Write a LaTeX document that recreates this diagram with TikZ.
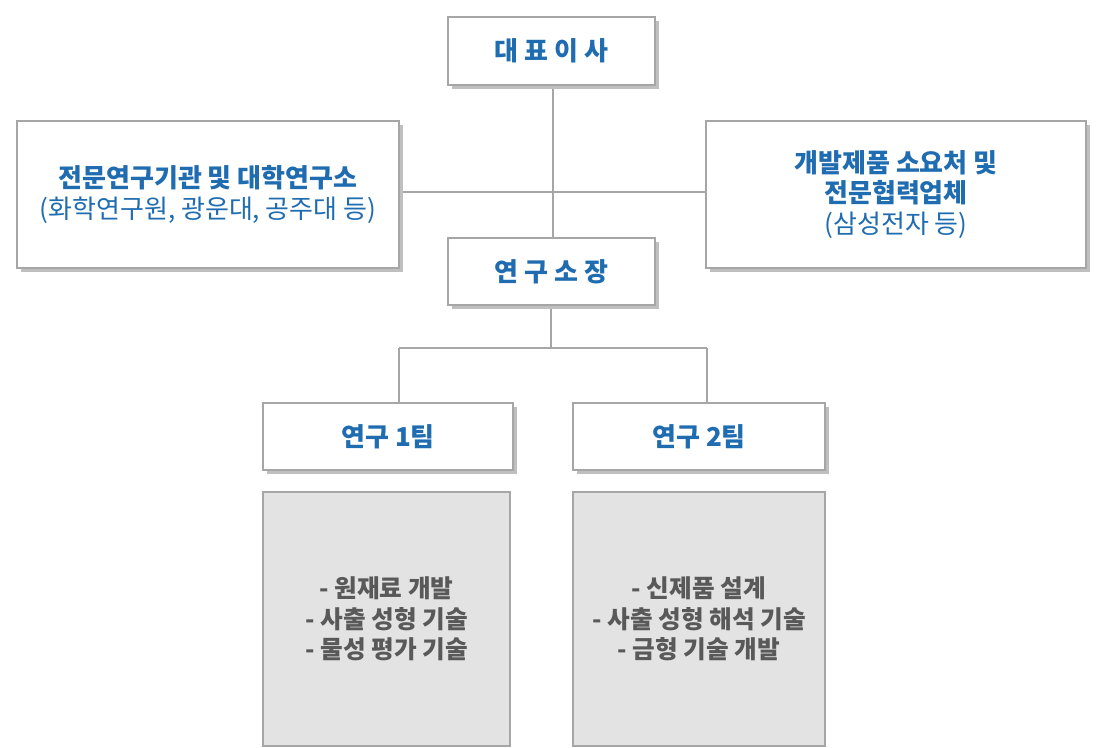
\documentclass[tikz,border=0pt]{standalone}
\usepackage{fontspec}
\setmainfont{Noto Sans CJK KR}
\definecolor{tblue}{HTML}{1F6CB0}
\definecolor{tgray}{HTML}{595959}
\definecolor{bord}{HTML}{A6A6A6}
\definecolor{gfill}{HTML}{E4E3E3}
\begin{document}
\begin{tikzpicture}[x=0.75pt,y=-0.75pt,
  wbox/.style={draw=bord,line width=2.2pt,fill=white,align=center,text=tblue,font=\fontsize{19.5}{23}\selectfont\bfseries},
  gbox/.style={draw=bord,line width=0.8pt,fill=gfill,align=center,text=tgray,font=\fontsize{18.5}{23}\selectfont\bfseries},
  conn/.style={draw=bord,line width=0.9pt}]
\useasboundingbox (0,0) rectangle (1104,747);
\newcommand{\bx}[6]{%
  \fill[black!25] (#1+4,#2+4) rectangle (#3+4,#4+4);
  \node[wbox,minimum width=(#3-#1)*0.75pt,minimum height=(#4-#2)*0.75pt] (#5) at ({(#1+#3)/2},{(#2+#4)/2}) {#6};}
\draw[conn] (553,85) -- (553,238);
\draw[conn] (399,192) -- (706,192);
\draw[conn] (551,305) -- (551,348);
\draw[conn] (399,348) -- (707,348);
\draw[conn] (399,348) -- (399,403);
\draw[conn] (707,348) -- (707,403);
\bx{448}{17}{655}{85}{ceo}{대 표 이 사}
\bx{17}{121}{399}{268}{left}{전문연구기관 및 대학연구소\\{\mdseries(화학연구원, 광운대, 공주대 등)}}
\bx{706}{121}{1086}{268}{right}{개발제품 소요처 및\\전문협력업체\\{\mdseries(삼성전자 등)}}
\bx{448}{238}{655}{305}{lab}{연 구 소 장}
\bx{263}{403}{513}{470}{t1}{연구 1팀}
\bx{573}{403}{825}{470}{t2}{연구 2팀}
\node[gbox,minimum width=247*0.75pt,minimum height=254*0.75pt] (g1) at (386.5,619) {- 원재료 개발\\- 사출 성형 기술\\- 물성 평가 기술};
\node[gbox,minimum width=252*0.75pt,minimum height=254*0.75pt] (g2) at (699,619) {- 신제품 설계\\- 사출 성형 해석 기술\\- 금형 기술 개발};
\end{tikzpicture}
\end{document}
